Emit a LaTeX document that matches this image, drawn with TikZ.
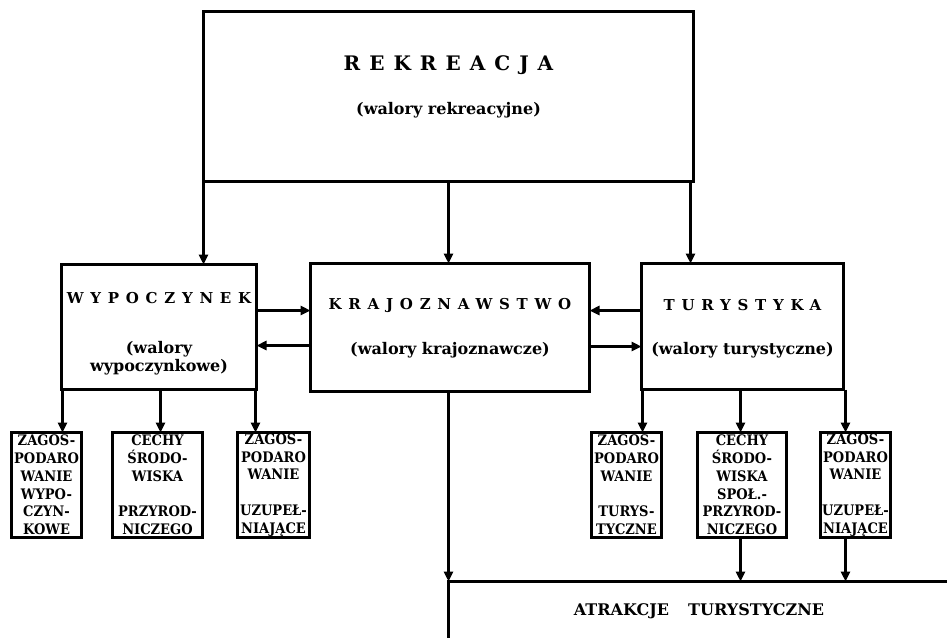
\documentclass[tikz,border=0pt]{standalone}
\usepackage{fontspec}
\setmainfont{DejaVu Serif}
\newfontfamily\condserif{DejaVu Serif Condensed}
\usetikzlibrary{arrows.meta}
\begin{document}
\begin{tikzpicture}[x=1pt,y=-1pt,
  box/.style={draw=black, line width=3pt, inner sep=0pt, outer sep=0pt, fill=none},
  arr/.style={line width=3pt, -{Triangle[length=10pt,width=9pt]}},
  ln/.style={line width=3pt},
  head/.style={font=\fontsize{15}{18}\selectfont\bfseries\addfontfeature{LetterSpace=45}},
  bighead/.style={font=\fontsize{20}{24}\selectfont\bfseries\addfontfeature{LetterSpace=45}},
  sub/.style={font=\fontsize{16}{18}\selectfont\bfseries, align=center},
  small/.style={box, font=\condserif\fontsize{14.5}{17.8}\selectfont\bfseries, align=center, minimum height=105pt},
]
\useasboundingbox (0,0) rectangle (947,638);

% main boxes
\node[box, minimum width=490pt, minimum height=170pt] (rek) at (448.5,96.5) {};
\node[box, minimum width=195pt, minimum height=125pt] (wyp) at (159,327) {};
\node[box, minimum width=279pt, minimum height=128pt] (kra) at (450,327.5) {};
\node[box, minimum width=202pt, minimum height=126pt] (tur) at (742.5,326.5) {};

% titles and subtitles
\node[bighead] (rekT) at (448.5,65) {REKREACJA};
\node[sub] (rekS) at (448.5,110) {(walory rekreacyjne)};
\node[head] (wypT) at (159,298) {WYPOCZYNEK};
\node[sub] (wypS) at (159,358) {(walory\\wypoczynkowe)};
\node[head] (kraT) at (450,305) {KRAJOZNAWSTWO};
\node[sub] (kraS) at (450,350) {(walory krajoznawcze)};
\node[head] (turT) at (742.5,305) {TURYSTYKA};
\node[sub] (turS) at (742.5,350) {(walory turystyczne)};

% detail boxes
\node[small, minimum width=70pt] (s1) at (46.5,485) {ZAGOS-\\PODARO\\WANIE\\WYPO-\\CZYN-\\KOWE};
\node[small, minimum width=90pt] (s2) at (157.5,485) {CECHY\\ŚRODO-\\WISKA\\[17.8pt]PRZYROD-\\NICZEGO};
\node[small, minimum width=72pt] (s3) at (273.5,485) {ZAGOS-\\PODARO\\WANIE\\[17.8pt]UZUPEŁ-\\NIAJĄCE};
\node[small, minimum width=70pt] (s4) at (626.5,485) {ZAGOS-\\PODARO\\WANIE\\[17.8pt]TURYS-\\TYCZNE};
\node[small, minimum width=89pt] (s5) at (742,485) {CECHY\\ŚRODO-\\WISKA\\SPOŁ.-\\PRZYROD-\\NICZEGO};
\node[small, minimum width=70pt] (s6) at (855.5,485) {ZAGOS-\\PODARO\\WANIE\\[17.8pt]UZUPEŁ-\\NIAJĄCE};

% open box at the bottom
\coordinate (atrC) at (448.5,581.5);
\coordinate (atrR) at (947,581.5);
\coordinate (atrB) at (448.5,638);
\draw[ln] (atrR) -- (atrC) -- (atrB);
\node[font=\fontsize{16}{18}\selectfont\bfseries] (atr) at (699,611) {ATRAKCJE\hspace{1.2em}TURYSTYCZNE};

% arrows from the top box
\draw[arr] (rek.south west) -- (rek.south west |- wyp.north);
\draw[arr] (rek.south) -- (rek.south |- kra.north);
\draw[arr] ([xshift=-3pt]rek.south east) -- ([xshift=-3pt]rek.south east |- tur.north);

% arrows between the middle boxes
\draw[arr] ([yshift=16.5pt]wyp.east) -- ([yshift=16.5pt]wyp.east -| kra.west);
\draw[arr] ([yshift=-18pt]kra.west) -- ([yshift=-18pt]kra.west -| wyp.east);
\draw[arr] ([yshift=16pt]tur.west) -- ([yshift=16pt]tur.west -| kra.east);
\draw[arr] ([yshift=-19pt]kra.east) -- ([yshift=-19pt]kra.east -| tur.west);

% arrows to the detail boxes
\draw[arr] ([xshift=1pt]wyp.south west) -- ([xshift=1pt]wyp.south west |- s1.north);
\draw[arr] ([xshift=1.5pt]wyp.south) -- ([xshift=1.5pt]wyp.south |- s2.north);
\draw[arr] ([xshift=-1pt]wyp.south east) -- ([xshift=-1pt]wyp.south east |- s3.north);
\draw[arr] ([xshift=1pt]tur.south west) -- ([xshift=1pt]tur.south west |- s4.north);
\draw[arr] ([xshift=-2pt]tur.south) -- ([xshift=-2pt]tur.south |- s5.north);
\draw[arr] ([xshift=2pt]tur.south east) -- ([xshift=2pt]tur.south east |- s6.north);

% arrows to the attractions
\draw[arr] (kra.south -| atrC) -- (atrC);
\draw[arr] ([xshift=-2pt]tur.south |- s5.south) -- ([xshift=-2pt]tur.south |- atrC);
\draw[arr] ([xshift=2pt]tur.south east |- s6.south) -- ([xshift=2pt]tur.south east |- atrC);
\end{tikzpicture}
\end{document}
